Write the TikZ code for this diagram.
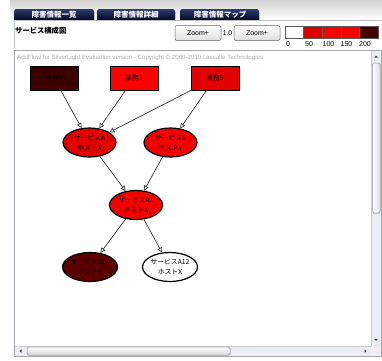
\documentclass[tikz,border=0pt]{standalone}
\usepackage{fontspec}
\setmainfont{Liberation Sans}
\newfontfamily\jp{Noto Sans CJK JP}
\usetikzlibrary{arrows.meta,shapes.geometric}

\definecolor{navytop}{HTML}{2B3B6E}
\definecolor{navybot}{HTML}{020A26}
\definecolor{lvl0}{HTML}{FFFFFF}
\definecolor{lvl50}{HTML}{DD0000}
\definecolor{lvl100}{HTML}{FF0000}
\definecolor{lvl150}{HTML}{FF0000}
\definecolor{lvl200}{HTML}{440000}
\definecolor{darkmaroon}{HTML}{3C0000}
\definecolor{maroon}{HTML}{5A0000}
\definecolor{midred}{HTML}{E20000}
\definecolor{framegray}{HTML}{A4A8AC}
\definecolor{barbg}{HTML}{E9EEF3}
\definecolor{thumbedge}{HTML}{8E9BAA}
\definecolor{nodetext}{HTML}{0A0000}

\tikzset{
  tab/.style={top color=navytop, bottom color=navybot},
  tablabel/.style={text=white, font=\jp\bfseries\fontsize{7.5}{8}\selectfont, inner sep=0},
  btn/.style={draw=gray!80!black, line width=0.5pt, rounded corners=2pt,
    top color=white, bottom color=gray!25, minimum width=46pt, minimum height=15pt,
    inner sep=0, font=\fontsize{7}{8}\selectfont},
  cell/.style={draw=gray!70!black, line width=0.5pt, minimum width=18.6pt,
    minimum height=12pt, inner sep=0},
  tick/.style={font=\fontsize{7}{8}\selectfont, inner sep=0},
  task/.style={draw=black, line width=0.9pt, minimum width=48pt, minimum height=24pt,
    inner sep=0, text=nodetext, font=\jp\fontsize{6.8}{7}\selectfont},
  svc/.style={ellipse, draw=black, line width=1.2pt, minimum width=53pt,
    minimum height=29pt, inner sep=0, align=center, text=nodetext,
    font=\jp\fontsize{6.8}{10}\selectfont},
  link/.style={draw=black!80, line width=0.7pt,
    -{Triangle[open,length=5pt,width=5pt,fill=white]}},
  bar/.style={fill=barbg},
  thumb/.style={draw=thumbedge, line width=0.5pt, rounded corners=1.5pt,
    left color=white, right color=gray!25},
  hthumb/.style={draw=thumbedge, line width=0.5pt, rounded corners=1.5pt,
    top color=white, bottom color=gray!30},
  arrowmark/.style={fill=black!80}
}

\begin{document}
\begin{tikzpicture}[x=1pt,y=-1pt]
\useasboundingbox (0,0) rectangle (382,360);
\fill[white] (0,0) rectangle (382,360);

% header band behind the tabs
\shade[top color=gray!35, bottom color=white] (10,0) rectangle (382,20);

% tabs
\fill[tab] (14,20) [rounded corners=3pt] -- (14,9) -- (94,9) [sharp corners] -- (94,20) -- cycle;
\fill[tab] (97,20) [rounded corners=3pt] -- (97,9) -- (175,9) [sharp corners] -- (175,20) -- cycle;
\fill[tab] (180,20) [rounded corners=3pt] -- (180,9) -- (259,9) [sharp corners] -- (259,20) -- cycle;
\node[tablabel] (t1) at (54,14.5) {障害情報一覧};
\node[tablabel] (t2) at (136,14.5) {障害情報詳細};
\node[tablabel] (t3) at (220,14.5) {障害情報マップ};

% title panel
\draw[framegray!70, line width=0.5pt] (382,20.5) -- (14.5,20.5) -- (14.5,48);
\node[anchor=west, inner sep=0, font=\jp\bfseries\fontsize{7.3}{8}\selectfont] (title) at (15,30.5) {サービス構成図};

% zoom controls
\node[btn] (zin) at (198,33) {Zoom+};
\node[inner sep=0, font=\fontsize{6.8}{7}\selectfont] (zval) at (227.5,33) {1.0};
\node[btn] (zout) at (257,33) {Zoom+};

% colour legend
\node[cell, fill=lvl0]   (c0)   at (294.3,32) {};
\node[cell, fill=lvl50]  (c50)  at (312.9,32) {};
\node[cell, fill=lvl100] (c100) at (331.5,32) {};
\node[cell, fill=lvl150] (c150) at (350.1,32) {};
\node[cell, fill=lvl200] (c200) at (368.7,32) {};
\node[tick] (n0)   at (288,44.5) {0};
\node[tick] (n50)  at (309,44.5) {50};
\node[tick] (n100) at (328.5,44.5) {100};
\node[tick] (n150) at (346.5,44.5) {150};
\node[tick] (n200) at (365,44.5) {200};

% diagram frame and scroll bars
\draw[framegray, line width=0.6pt] (14.5,50.5) rectangle (381.5,356);
\fill[bar] (371,51) rectangle (381.2,346);
\draw[gray!40, line width=0.4pt] (371,51) -- (371,346);
\fill[thumb] (372.5,63) rectangle (380,213);
\fill[arrowmark] (374.3,57.5) -- (377.7,57.5) -- (376,55.5) -- cycle;
\fill[arrowmark] (374.3,339) -- (377.7,339) -- (376,341) -- cycle;
\fill[bar] (15,346) rectangle (371,355.7);
\draw[gray!40, line width=0.4pt] (15,346) -- (371,346);
\fill[hthumb] (27,347) rectangle (230,355);
\fill[arrowmark] (21.5,349.3) -- (21.5,352.7) -- (19.5,351) -- cycle;
\fill[arrowmark] (364.5,349.3) -- (364.5,352.7) -- (366.5,351) -- cycle;
\fill[gray!12] (371,346) rectangle (381.2,355.7);

% evaluation notice
\node[anchor=west, inner sep=0, text=gray!65] (notice) at (17,57.5)
  {\resizebox{246pt}{!}{\fontsize{6}{7}\selectfont AddFlow for SilverLight Evaluation version - Copyright \textcopyright{} 2009-2010 Lassalle Technologies}};

% business processes
\node[task, fill=darkmaroon] (g1) at (54,78) {業務1};
\node[task, fill=lvl100]     (g3) at (134,78) {業務3};
\node[task, fill=midred]     (g5) at (215,78) {業務5};

% services
\node[svc, fill=midred]   (sA)   at (89.5,142.5) {サービスA\\ホストX};
\node[svc, fill=red!95!black] (sE) at (170.5,142.5) {サービスE\\ホストY};
\node[svc, fill=red!95!black] (sA1) at (136,205) {サービスA1\\ホストX};
\node[svc, fill=maroon]   (sA11) at (90,267) {サービスA11\\ホストX};
\node[svc, fill=white]    (sA12) at (170,267) {サービスA12\\ホストX};

% dependencies
\draw[link] (g1) -- (sA);
\draw[link] (g3) -- (sA);
\draw[link] (g5) -- (sA);
\draw[link] (g5) -- (sE);
\draw[link] (sA) -- (sA1);
\draw[link] (sE) -- (sA1);
\draw[link] (sA1) -- (sA11);
\draw[link] (sA1) -- (sA12);
\end{tikzpicture}
\end{document}
